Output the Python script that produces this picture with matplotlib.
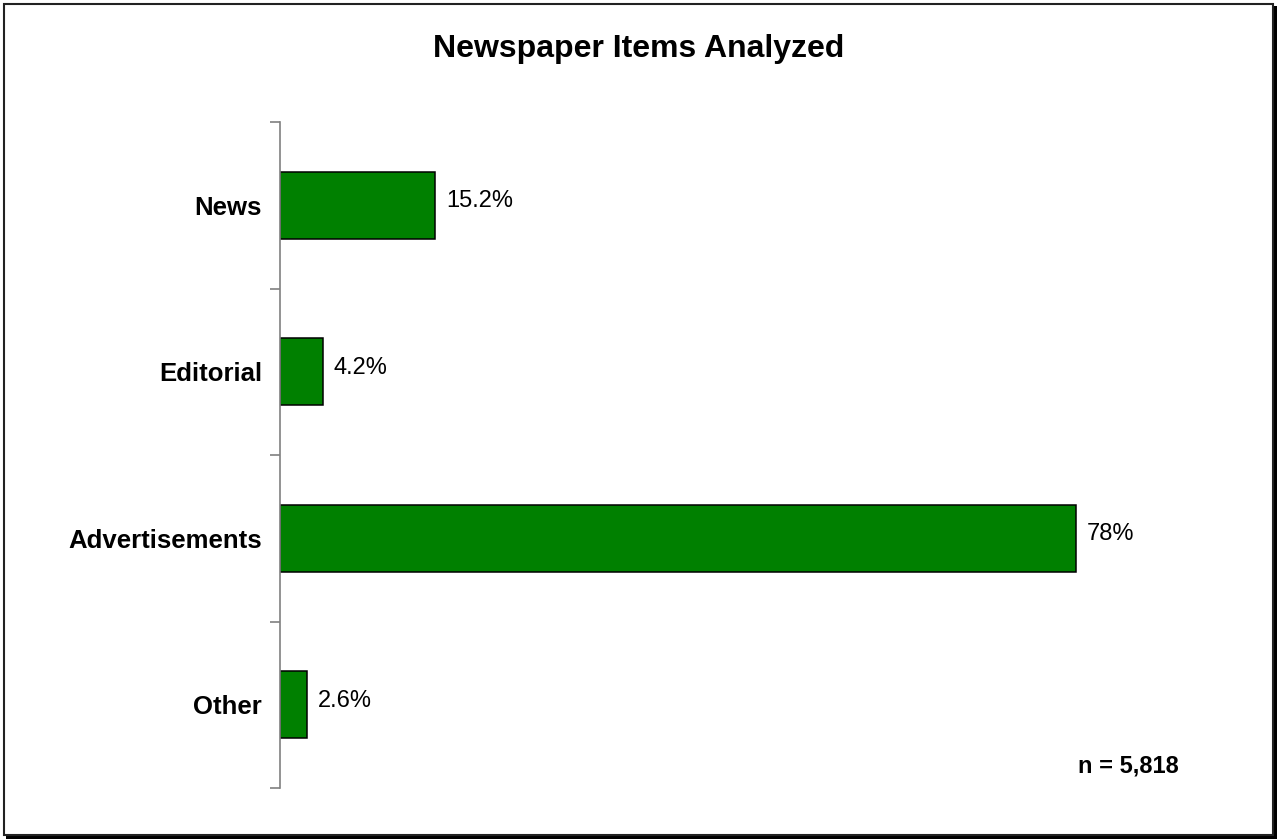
import matplotlib
matplotlib.use("Agg")
import matplotlib.pyplot as plt
from matplotlib.patches import Rectangle

categories = ["News", "Editorial", "Advertisements", "Other"]
shares = [15.2, 4.2, 78.0, 2.6]
share_labels = ["15.2%", "4.2%", "78%", "2.6%"]
title = "Newspaper Items Analyzed"
note = "n = 5,818"

W, H = 1277, 839
plt.rcParams["font.family"] = ["Liberation Sans", "DejaVu Sans"]

fig = plt.figure(figsize=(W / 100, H / 100), dpi=100)

# frame with drop shadow
fig.patches.append(Rectangle((6 / W, 0), (W - 6) / W, (H - 835) / H + 4 / H,
                             transform=fig.transFigure, facecolor="black",
                             edgecolor="none", zorder=0))
fig.patches.append(Rectangle(((W - 4) / W, 0), 4 / W, (H - 6) / H,
                             transform=fig.transFigure, facecolor="black",
                             edgecolor="none", zorder=0))
fig.patches.append(Rectangle((3.5 / W, (H - 834.5) / H), 1269.5 / W, 831 / H,
                             transform=fig.transFigure, facecolor="white",
                             edgecolor="#222222", linewidth=1.5, zorder=1))

ax = fig.add_axes([280 / W, 1 - 788 / H, 918 / W, 666 / H])
ax.set_zorder(2)
ax.patch.set_alpha(0)

pos = list(range(len(categories)))
bars = ax.barh(pos, shares, height=0.4, color="#008000", edgecolor="black",
               linewidth=1.1)
for b, lab in zip(bars, share_labels):
    ax.annotate(lab, (b.get_width(), b.get_y() + b.get_height() / 2),
                xytext=(8, 3), textcoords="offset points", ha="left",
                va="center", fontsize=17)

ax.set_xlim(0, 90)
ax.set_ylim(len(categories) - 0.5, -0.5)
ax.set_yticks(pos)
ax.set_yticklabels(categories, fontsize=18.5, fontweight="bold")
ax.set_yticks([p - 0.5 for p in pos] + [len(categories) - 0.5], minor=True)
ax.tick_params(axis="y", which="major", length=0, pad=13)
ax.tick_params(axis="y", which="minor", length=7, width=1.2, color="#808080")
ax.set_xticks([])
for s in ["top", "right", "bottom"]:
    ax.spines[s].set_visible(False)
ax.spines["left"].set_color("#808080")
ax.spines["left"].set_linewidth(1.2)

fig.text(0.5, 1 - 49 / H, title, ha="center", va="center", fontsize=23,
         fontweight="bold", zorder=3)
fig.text(1179 / W, 1 - 766 / H, note, ha="right", va="center", fontsize=17,
         fontweight="bold", zorder=3)

fig.savefig("out.png", dpi=100)
